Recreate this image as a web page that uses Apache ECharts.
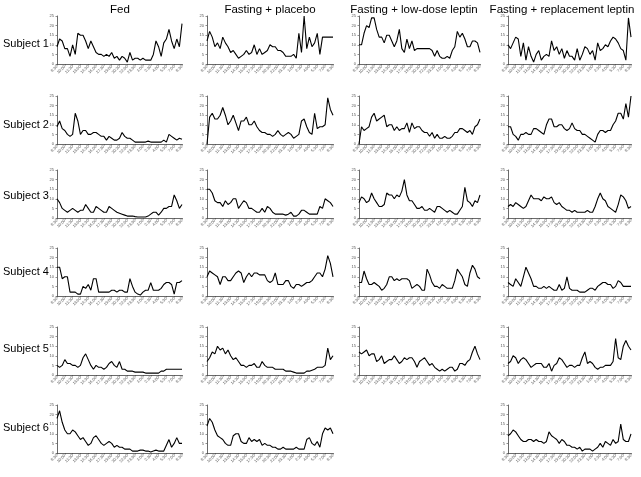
<!DOCTYPE html>
<html>
<head>
<meta charset="utf-8">
<script src="https://cdn.jsdelivr.net/npm/echarts@6/dist/echarts.min.js"></script>
<style>
  html, body { margin: 0; padding: 0; background: #fff; }
  #chart { width: 641px; height: 477px; }
</style>
</head>
<body>
<div id="chart"></div>
<script>
// half-hour samples, 8:30 to 8:30 next day
const times = ["8:30","9:00","9:30","10:00","10:30","11:00","11:30","12:00","12:30","13:00","13:30","14:00","14:30","15:00","15:30","16:00","16:30","17:00","17:30","18:00","18:30","19:00","19:30","20:00","20:30","21:00","21:30","22:00","22:30","23:00","23:30","0:00","0:30","1:00","1:30","2:00","2:30","3:00","3:30","4:00","4:30","5:00","5:30","6:00","6:30","7:00","7:30","8:00","8:30"];
const yTicks = [0, 5, 10, 15, 20, 25];

const columnTitles = ["Fed", "Fasting + placebo", "Fasting + low-dose leptin", "Fasting + replacement leptin"];
const rowTitles = ["Subject 1", "Subject 2", "Subject 3", "Subject 4", "Subject 5", "Subject 6"];

// Subject 1
const fed1 = [9,13,12,8,8,4,10,5,16,15,15,12,8,12,9,6,5,5,4,5,4,6,3,4,2,4,3,1,6,2,3,3,2,3,2,2,2,5,12,9,4,11,13,18,12,8,13,9,21];
const placebo1 = [12,17,14,9,11,8,14,11,9,6,7,5,3,4,5,7,5,6,10,5,8,5,6,7,10,9,9,7,7,6,4,4,4,5,3,16,6,25,8,14,9,11,16,5,14,14,14,14,14];
const lowDose1 = [10,10,16,20,19,24,24,18,14,14,11,15,15,12,9,12,18,8,6,13,8,12,7,8,8,8,8,8,8,7,4,7,4,3,3,4,3,7,9,17,14,16,13,9,9,12,12,11,6];
const replacement1 = [10,8,11,14,13,4,11,2,9,4,1,5,7,2,4,5,4,12,7,9,5,8,3,7,4,4,2,8,2,5,9,8,5,7,2,11,7,8,10,9,12,14,13,11,8,7,2,24,14];

// Subject 2
const fed2 = [9,12,8,7,5,4,5,16,12,5,7,7,5,5,6,6,5,4,4,2,4,3,2,2,3,6,4,3,3,2,1,1,1,1,1,1.5,1,1,1,1,1,2,1,5,4,3,2,3,2.5];
const placebo2 = [0,14,16,13,13,15,19,15,10,12,15,11,7,12,12,14,10,10,12,9,7,6,6,5,5,4,5,7,5,4,5,6,5,3,4,5,12,13,9,6,5,16,8,9,9,10,24,18,15];
const lowDose2 = [0,9,7,8,9,14,16,12,13,14,15,9,10,10,7,9,7,8,8,11,6,11,8,9,9,7,6,6,4,6,3,5,3,3,4,3,3,4,6,6,8,8,7,6,7,5,9,10,13];
const replacement2 = [9,9,5,4,2,5,5,6,5,5,8,8,7,6,5,10,13,13,9,9,10,10,8,7,8,11,8,7,7,5,5,4,3,2,1,5,7,7,6,7,7,10,12,16,16,13,21,14,25];

// Subject 3
const fed3 = [10,8,5,4,3,4,5,4,3,4,4,7,5,3,3,6,5,4,3,3,6,5,4,3,2.5,2,1.5,1,1,1,0.7,0.5,0.5,0.5,0.5,1,2,3,3,1.5,3,5,5,6,6,12,9,5,7];
const placebo3 = [15,15,13,9,8,8,6,9,7,8,10,10,5,7,9,8,5,5,4,3,3,5,3,6,5,3,2,2,2,2,1.5,2,3,1,1,2,4,4,3,2,2,2,2,6,5,10,9,8,6];
const lowDose3 = [8,11,10,8,9,13,10,8,6,6,7,13,12,12,10,12,11,14,20,12,9,9,7,5,5,6,4,4,5,4,3,6,6,5,4,3,4,3,2,2,4,6,16,9,8,6,9,8,12];
const replacement3 = [6,7,6,8,7,6,5,6,9,12,10,10,10,9,11,10,10,11,8,7,8,6,5,4,4,3,4,3,3,3,3,4,3,3,6,10,13,10,9,6,5,4,3,7,12,11,9,5,6];

// Subject 4
const fed4 = [15,15,9,10,10,2,2,2,1,1,5,4,6,3,9,9,2,2,2,2,2,3,3,2,3,3,2,2,9,5,2,1,0.5,2,3,3,7,3,3,3,4,6,7,7,6,1,7,7,8];
const placebo4 = [10,13,12,11,10,6,10,10,8,8,10,12,13,12,7,10,12,10,12,12,11,11,11,8,7,8,12,6,6,6,8,8,5,4,6,6,5,6,7,7,8,10,12,12,10,14,21,17,10];
const lowDose4 = [7,7,13,9,6,6,7,6,5,3,4,6,10,10,8,9,8,9,9,9,8,4,5,6,5,3,3,14,11,7,5,5,4,6,5,4,4,4,8,14,12,10,6,5,12,16,14,10,9];
const replacement4 = [7,6,5,9,7,5,10,15,12,9,5,5,4,4,5,4,5,4,3,3,6,3,4,10,4,3,3,3,2,2,2,3,4,4,3,5,6,7,7,6,6,4,5,8,7,5,5,5,5];

// Subject 5
const fed5 = [5,4,5,8,6,6,5,5,4,5,9,11,8,5,3,5,4,4,3,4,6,7,5,4,7,3,3,2,2,2,1.5,1.5,1.5,1.5,1,1,1,1,1,1,2,2,3,3,3,3,3,3,3];
const placebo5 = [7,9,12,11,15,13,14,11,13,10,8,9,7,5,5,4,5,5,6,4,4,7,5,4,4,4,3,3,3,3,2,2,2,1.5,1,1,1,1,2,2,2.5,3,4,4,4,5,14,8,10];
const lowDose5 = [12,11,12,13,10,11,11,7,8,10,6,7,8,8,10,8,6,7,9,8,9,9,7,4,7,8,9,7,5,6,4,3,2,3,2,3,4,4,2,3,6,6,5,7,8,12,15,11,8];
const replacement5 = [6,7,10,9,6,8,9,8,6,4,5,6,6,6,4,4,6,2,5,6,9,8,6,4,5,5,4,5,5,9,12,6,7,6,4,3,4,4,5,5,5,7,19,9,8,15,18,15,13];

// Subject 6 (no low-dose leptin study)
const fed6 = [18,22,16,12,10,10,12,11,9,7,8,6,4,5,8,9,7,5,4,5,6,5,3,4,3,3,2,2,2,1,1,1,1.5,1.5,1,1,0.5,1,1.5,1,1,1,4,7,3,5,8,5,5];
const placebo6 = [14,18,16,12,9,8,7,5,4,4,9,10,10,6,5,5,8,6,7,6,7,4,5,4,4,3,3,2,2,3,2,2,2,2,3,2,2,2,7,8,5,4,6,3,10,13,12,13,10];
const replacement6 = [9,10,12,11,9,7,6,6,7,7,6,7,6,6,5,6,11,9,8,7,5,7,6,4,4,3,3,2,3,1,2,2,2,1,2,3,5,3,6,5,4,7,5,6,15,7,6,6,10];

const panels = [
  [fed1, placebo1, lowDose1, replacement1],
  [fed2, placebo2, lowDose2, replacement2],
  [fed3, placebo3, lowDose3, replacement3],
  [fed4, placebo4, lowDose4, replacement4],
  [fed5, placebo5, lowDose5, replacement5],
  [fed6, placebo6, null, replacement6]
];

// layout of the small multiples (px)
const colLeft = [57, 207, 359, 508];
const colWidth = [125, 126, 121, 123];
const colCenter = [120, 270, 414, 562];
const rowTop = [16, 96, 170, 248, 327, 405];
const rowHeight = 48;
const rowLabelY = [44, 125, 196, 272, 349, 428];

const font = "Liberation Sans, Arial, sans-serif";
const axisColor = "#444";

const grids = [];
const xAxes = [];
const yAxes = [];
const series = [];
const titles = [];

columnTitles.forEach((t, c) => {
  titles.push({
    text: t, left: colCenter[c], top: 4, textAlign: "center", padding: 0,
    textStyle: { fontFamily: font, fontSize: 11.5, fontWeight: "normal", color: "#000" }
  });
});
rowTitles.forEach((t, r) => {
  titles.push({
    text: t, left: 3, top: rowLabelY[r] - 6, padding: 0,
    textStyle: { fontFamily: font, fontSize: 11, fontWeight: "normal", color: "#000" }
  });
});

panels.forEach((row, r) => {
  row.forEach((data, c) => {
    if (!data) return;
    const idx = grids.length;
    grids.push({ left: colLeft[c], top: rowTop[r], width: colWidth[c], height: rowHeight, containLabel: false });
    xAxes.push({
      gridIndex: idx,
      type: "category",
      data: times,
      boundaryGap: false,
      axisLine: { lineStyle: { color: axisColor, width: 0.8 } },
      axisTick: { show: true, interval: 2, length: 1.5, lineStyle: { color: axisColor, width: 0.6 } },
      axisLabel: { interval: 2, rotate: 45, fontSize: 4, color: "#555", margin: 2, fontFamily: font },
      splitLine: { show: false }
    });
    yAxes.push({
      gridIndex: idx,
      type: "value",
      min: yTicks[0],
      max: yTicks[yTicks.length - 1],
      interval: 5,
      axisLine: { show: true, lineStyle: { color: axisColor, width: 0.8 } },
      axisTick: { show: true, length: 1.5, lineStyle: { color: axisColor, width: 0.6 } },
      axisLabel: { fontSize: 4, color: "#555", margin: 3, fontFamily: font },
      splitLine: { show: false }
    });
    series.push({
      type: "line",
      xAxisIndex: idx,
      yAxisIndex: idx,
      data: data,
      showSymbol: false,
      animation: false,
      lineStyle: { color: "#000", width: 1.1 }
    });
  });
});

const chart = echarts.init(document.getElementById("chart"));
chart.setOption({
  animation: false,
  backgroundColor: "#fff",
  title: titles,
  grid: grids,
  xAxis: xAxes,
  yAxis: yAxes,
  series: series
});
</script>
</body>
</html>
